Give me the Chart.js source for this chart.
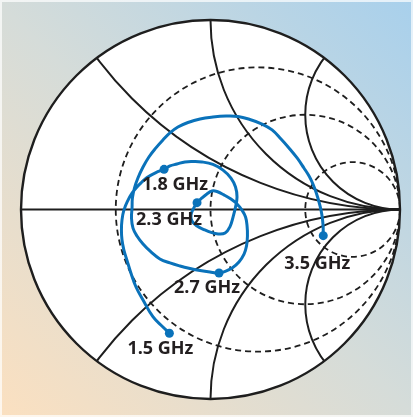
<!DOCTYPE html>
<html>
<head>
<meta charset="utf-8">
<script src="https://cdn.jsdelivr.net/npm/chart.js@4"></script>
<style>
  html, body { margin: 0; padding: 0; background: #fff; }
  canvas { display: block; }
</style>
</head>
<body>
<canvas id="smith" width="413" height="417"></canvas>
<script>
var gammaRe = [
  -0.217, -0.251, -0.303, -0.356, -0.393, -0.420, -0.441, -0.457, -0.467, -0.470,
  -0.467, -0.457, -0.435, -0.414, -0.388, -0.362, -0.335, -0.288, -0.245,
  -0.214, -0.177, -0.135, -0.092, -0.045, 0.013, 0.066, 0.108, 0.132, 0.140,
  0.132, 0.119, 0.103, 0.077, 0.040, 0.003, -0.034, -0.071, -0.098, -0.103,
  -0.090, -0.071,
  -0.045, -0.019, 0.008, 0.034, 0.071, 0.108, 0.140, 0.166, 0.185, 0.193,
  0.195, 0.190, 0.177, 0.150, 0.114, 0.077, 0.045,
  -0.003, -0.055, -0.108, -0.161, -0.214, -0.267, -0.314, -0.356, -0.388, -0.409,
  -0.417, -0.414, -0.412, -0.401, -0.383, -0.356, -0.325, -0.288, -0.251, -0.214,
  -0.172, -0.119, -0.055, 0.013, 0.082, 0.145, 0.208, 0.272, 0.325, 0.372,
  0.414, 0.457, 0.493, 0.520, 0.536, 0.551, 0.565, 0.578, 0.587, 0.594, 0.595
];
var gammaIm = [
  -0.653, -0.620, -0.567, -0.478, -0.409, -0.335, -0.267, -0.214, -0.161, -0.108,
  -0.055, -0.003, 0.050, 0.087, 0.119, 0.145, 0.169, 0.195, 0.212,
  0.230, 0.240, 0.251, 0.253, 0.251, 0.238, 0.208, 0.166, 0.119, 0.066,
  0.013, -0.040, -0.090, -0.124, -0.129, -0.121, -0.106, -0.087, -0.061, -0.029,
  0.005, 0.036,
  0.061, 0.082, 0.098, 0.095, 0.077, 0.055, 0.029, -0.003, -0.040, -0.087,
  -0.140, -0.193, -0.235, -0.277, -0.309, -0.327, -0.335,
  -0.330, -0.322, -0.311, -0.298, -0.282, -0.261, -0.224, -0.182, -0.140, -0.098,
  -0.045, 0.008, 0.061, 0.114, 0.166, 0.224, 0.277, 0.325, 0.367, 0.404,
  0.435, 0.459, 0.478, 0.488, 0.493, 0.491, 0.475, 0.451, 0.420, 0.372,
  0.325, 0.272, 0.219, 0.177, 0.145, 0.108, 0.066, 0.019, -0.024, -0.082, -0.138
];

// Marked frequencies and where they sit in the trace
var freqLabels = ['1.5 GHz', '1.8 GHz', '2.3 GHz', '2.7 GHz', '3.5 GHz'];
var freqIndex = [0, 18, 40, 57, 98];

// Smith chart grid
var resistanceCircles = [1 / 3, 1, 3];   // dashed
var reactanceArcs = [0.5, 1, 2];         // solid, drawn for +x and -x

// label offsets from their dot, in pixels
var labelOffsets = [[-9, 16], [11, 16], [-28, 17], [-12, 15], [-6, 28]];

var points = gammaRe.map(function (re, i) { return { x: re, y: gammaIm[i] }; });

var smithGrid = {
  id: 'smithGrid',
  beforeDatasetsDraw: function (chart) {
    var ctx = chart.ctx;
    var xs = chart.scales.x, ys = chart.scales.y;
    var px = function (v) { return xs.getPixelForValue(v); };
    var py = function (v) { return ys.getPixelForValue(v); };
    var R = px(1) - px(0);
    var cx = px(0), cy = py(0);

    // background
    ctx.save();
    var g = ctx.createLinearGradient(0, chart.height, chart.width, 0);
    g.addColorStop(0, '#fbe0c0');
    g.addColorStop(0.5, '#d5dcd9');
    g.addColorStop(1, '#a8d0ec');
    ctx.fillStyle = g;
    ctx.fillRect(0, 0, chart.width, chart.height);
    ctx.strokeStyle = 'rgba(255,255,255,0.7)';
    ctx.lineWidth = 2;
    ctx.strokeRect(1, 1, chart.width - 2, chart.height - 2);

    ctx.beginPath();
    ctx.arc(cx, cy, R, 0, Math.PI * 2);
    ctx.fillStyle = '#ffffff';
    ctx.fill();
    ctx.clip();

    ctx.strokeStyle = '#1e1e1e';

    // resistance circles
    ctx.lineWidth = 1.8;
    ctx.setLineDash([6, 4]);
    resistanceCircles.forEach(function (r) {
      ctx.beginPath();
      ctx.arc(px(r / (1 + r)), cy, R / (1 + r), 0, Math.PI * 2);
      ctx.stroke();
    });
    ctx.setLineDash([]);

    // reactance arcs
    ctx.lineWidth = 2;
    reactanceArcs.forEach(function (x) {
      [x, -x].forEach(function (v) {
        ctx.beginPath();
        ctx.arc(px(1), py(1 / v), R / Math.abs(v), 0, Math.PI * 2);
        ctx.stroke();
      });
    });

    // real axis
    ctx.beginPath();
    ctx.moveTo(px(-1), cy);
    ctx.lineTo(px(1), cy);
    ctx.stroke();
    ctx.restore();

    // outer circle
    ctx.save();
    ctx.strokeStyle = '#1e1e1e';
    ctx.lineWidth = 2.4;
    ctx.beginPath();
    ctx.arc(cx, cy, R, 0, Math.PI * 2);
    ctx.stroke();
    ctx.restore();
  },
  afterDatasetsDraw: function (chart) {
    var ctx = chart.ctx;
    var meta = chart.getDatasetMeta(0);
    ctx.save();
    ctx.font = 'bold 18px "Open Sans", "Liberation Sans", sans-serif';
    ctx.fillStyle = '#231f20';
    ctx.textAlign = 'center';
    ctx.textBaseline = 'middle';
    freqIndex.forEach(function (idx, k) {
      var el = meta.data[idx];
      ctx.fillText(freqLabels[k], el.x + labelOffsets[k][0], el.y + labelOffsets[k][1]);
    });
    ctx.restore();
  }
};

new Chart(document.getElementById('smith'), {
  type: 'scatter',
  data: {
    datasets: [{
      data: points,
      showLine: true,
      borderColor: '#0a72ba',
      backgroundColor: '#0a72ba',
      borderWidth: 3,
      tension: 0.4,
      pointRadius: function (c) { return freqIndex.indexOf(c.dataIndex) >= 0 ? 4.5 : 0; },
      pointBorderWidth: 0,
      pointHoverRadius: 0
    }]
  },
  options: {
    responsive: false,
    animation: false,
    devicePixelRatio: 1,
    layout: { padding: { left: 21, right: 13, top: 20, bottom: 18 } },
    scales: {
      x: { type: 'linear', min: -1, max: 1, display: false },
      y: { type: 'linear', min: -1, max: 1, display: false }
    },
    plugins: { legend: { display: false }, tooltip: { enabled: false } }
  },
  plugins: [smithGrid]
});
</script>
</body>
</html>
